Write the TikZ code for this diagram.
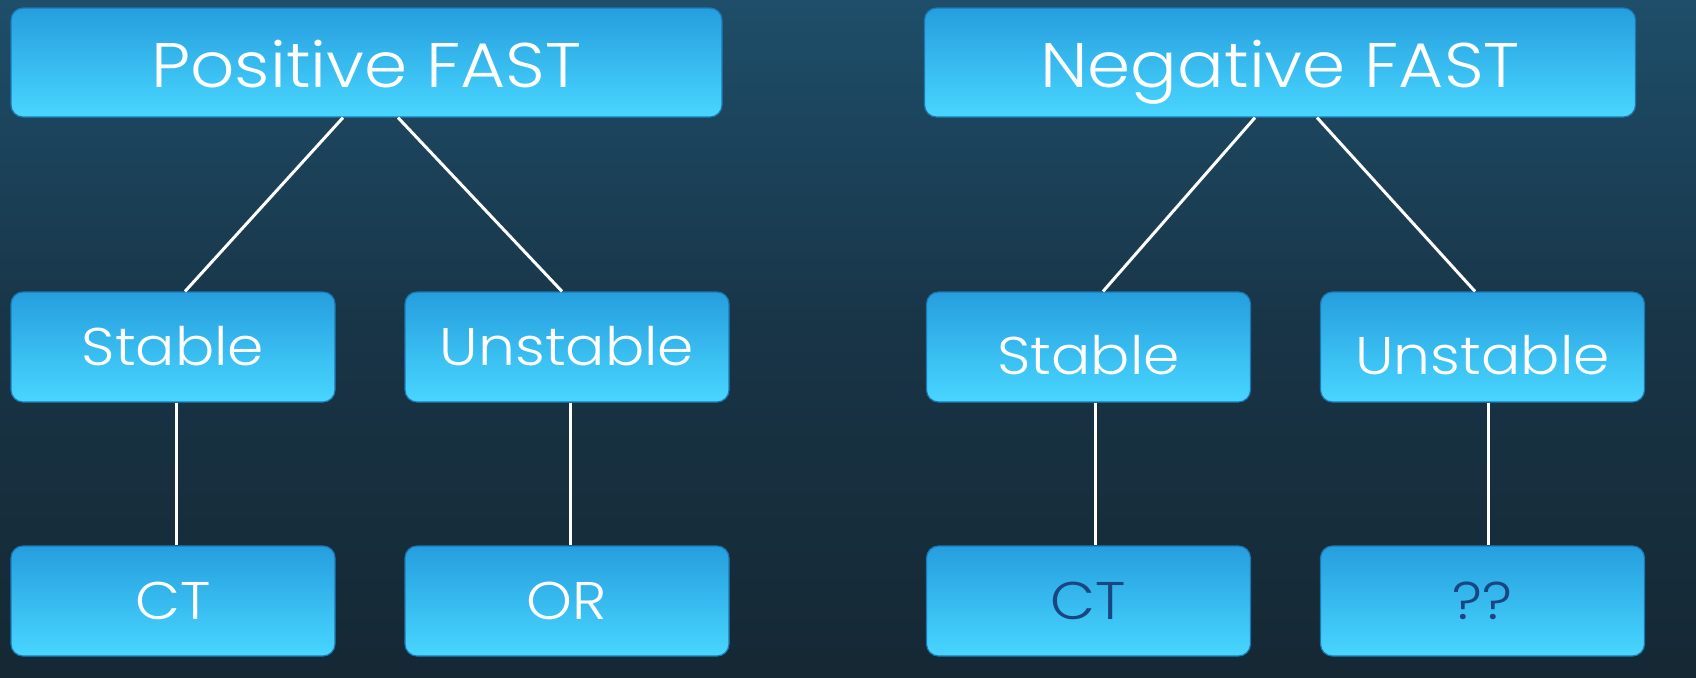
\documentclass[tikz,border=0pt]{standalone}
\usepackage{fontspec}
\setmainfont{Poppins}[UprightFont={* Light}, FakeStretch=1.1]
\usetikzlibrary{calc}
\definecolor{bgtop}{RGB}{30,78,106}
\definecolor{bgmid}{RGB}{24,52,70}
\definecolor{bgbot}{RGB}{21,40,52}
\definecolor{boxtop}{RGB}{38,158,222}
\definecolor{boxbot}{RGB}{72,214,255}
\definecolor{boxedge}{RGB}{28,120,180}
\definecolor{darktext}{RGB}{24,70,130}
\begin{document}
\begin{tikzpicture}[x=0.5pt,y=-0.5pt,
 box/.style={rectangle, rounded corners=6pt, top color=boxtop, bottom color=boxbot, draw=boxedge, line width=0.6pt, text=white, inner sep=0pt, align=center},
 bigbox/.style={box, minimum width=355.5pt, minimum height=54.5pt, font=\fontsize{31.5}{31.5}\selectfont, text height=25pt, text depth=0pt},
 smallbox/.style={box, minimum width=162pt, minimum height=55pt, font=\fontsize{26.5}{26.5}\selectfont, text height=18.5pt, text depth=0pt},
 lowtext/.style={text height=27.5pt},
 link/.style={white, line width=1.5pt}]
\shade[top color=bgtop, bottom color=bgbot, middle color=bgmid] (0,0) rectangle (1696,677);
\useasboundingbox (0,0) rectangle (1696,677);

\node[bigbox] (pos) at (366.5,62.5) {Positive FAST};
\node[bigbox] (neg) at (1280,62.5) {Negative FAST};
\node[smallbox] (ps) at (173,347) {Stable};
\node[smallbox] (pu) at (567,347) {Unstable};
\node[smallbox, lowtext] (ns) at (1088.5,347) {Stable};
\node[smallbox, lowtext] (nu) at (1482.5,347) {Unstable};
\node[smallbox] (pct) at (173,601) {CT};
\node[smallbox] (por) at (567,601) {OR};
\node[smallbox, text=darktext] (nct) at (1088.5,601) {CT};
\node[smallbox, text=darktext] (nq) at (1482.5,601) {??};

\draw[link] ($(pos.south)+(-23.5,0)$) -- ($(ps.north)+(12,0)$);
\draw[link] ($(pos.south)+(31.5,0)$) -- ($(pu.north)+(-5,0)$);
\draw[link] ($(neg.south)+(-25,0)$) -- ($(ns.north)+(14.5,0)$);
\draw[link] ($(neg.south)+(37,0)$) -- ($(nu.north)+(-7.5,0)$);
\draw[link] ($(ps.south)+(3,0)$) -- ($(pct.north)+(3,0)$);
\draw[link] ($(pu.south)+(3,0)$) -- ($(por.north)+(3,0)$);
\draw[link] ($(ns.south)+(6.5,0)$) -- ($(nct.north)+(6.5,0)$);
\draw[link] ($(nu.south)+(5.5,0)$) -- ($(nq.north)+(5.5,0)$);
\end{tikzpicture}
\end{document}
